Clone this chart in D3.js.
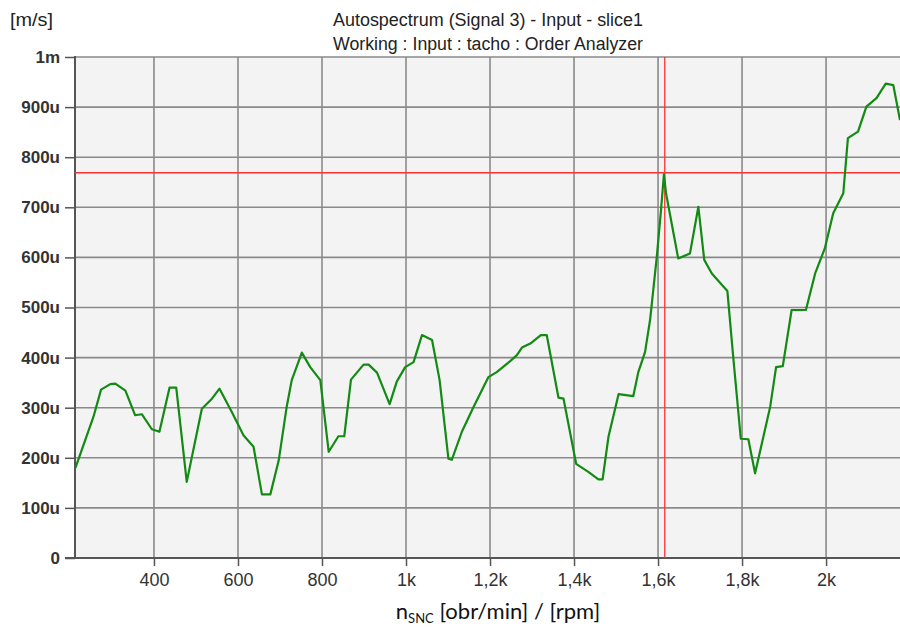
<!DOCTYPE html>
<html>
<head>
<meta charset="utf-8">
<script src="https://cdn.jsdelivr.net/npm/d3@7"></script>
<style>
  body { margin: 0; background: #fff; }
  svg { display: block; }
  .tick text { fill: #333; }
</style>
</head>
<body>
<div id="chart"></div>
<script>
// Speed samples (rpm) and autospectrum amplitude (micro m/s)
const rpm = [213, 256, 274, 296, 308, 332, 355, 371, 395, 413, 437, 453, 478, 514, 538, 556, 585, 613, 637, 657,
  677, 697, 716, 728, 752, 772, 796, 816, 839, 853, 869, 899, 911, 931, 961, 978, 998, 1018, 1038, 1062,
  1080, 1101, 1109, 1133, 1161, 1196, 1216, 1248, 1264, 1276, 1296, 1321, 1335, 1363, 1375, 1405, 1434, 1458, 1468, 1482,
  1506, 1541, 1553, 1569, 1581, 1597, 1607, 1614, 1619, 1648, 1676, 1696, 1710, 1728, 1765, 1779, 1797, 1815, 1831, 1867,
  1881, 1897, 1918, 1952, 1974, 1997, 2017, 2041, 2052, 2076, 2096, 2120, 2142, 2160, 2176];
const amplitude = [180, 282, 336, 347, 348, 334, 285, 287, 257, 252, 340, 340, 152, 298, 318, 338, 292, 245, 222, 127,
  127, 195, 302, 355, 410, 381, 355, 212, 243, 243, 356, 386, 386, 370, 307, 352, 381, 391, 445, 435,
  355, 198, 196, 252, 302, 361, 371, 393, 405, 420, 428, 445, 445, 320, 318, 188, 172, 157, 157, 242,
  327, 323, 371, 411, 475, 601, 694, 766, 728, 598, 608, 701, 595, 568, 533, 401, 238, 237, 169, 302,
  381, 383, 495, 495, 568, 618, 688, 728, 838, 851, 901, 918, 947, 944, 874];

// Cursor position
const cursorRpm = 1616;
const cursorAmp = 769;

const xTicks = [400, 600, 800, 1000, 1200, 1400, 1600, 1800, 2000];
const yTicks = [0, 100, 200, 300, 400, 500, 600, 700, 800, 900, 1000];

const W = 900, H = 628;
const m = { left: 75, right: 900, top: 57, bottom: 558 };
const sans = "'Liberation Sans', Arial, sans-serif";

const svg = d3.select("#chart").append("svg")
  .attr("width", W)
  .attr("height", H);

const x = d3.scaleLinear().domain([212, 2176]).range([m.left, m.right]);
const y = d3.scaleLinear().domain([0, 1000]).range([m.bottom, m.top]);

// plot background
svg.append("rect")
  .attr("x", m.left).attr("y", m.top)
  .attr("width", m.right - m.left).attr("height", m.bottom - m.top)
  .attr("fill", "#f3f3f3");

// grid
svg.append("g")
  .selectAll("line")
  .data(yTicks.filter(d => d > 0))
  .enter().append("line")
  .attr("x1", m.left).attr("x2", m.right)
  .attr("y1", d => y(d)).attr("y2", d => y(d))
  .attr("stroke", "#8a8a8a").attr("stroke-width", 1.6);

svg.append("g")
  .selectAll("line")
  .data(xTicks)
  .enter().append("line")
  .attr("x1", d => x(d)).attr("x2", d => x(d))
  .attr("y1", m.top).attr("y2", m.bottom)
  .attr("stroke", "#8a8a8a").attr("stroke-width", 1.6);

// axes
const yAxis = d3.axisLeft(y).tickValues(yTicks).tickSize(10).tickPadding(5)
  .tickFormat(d => d === 0 ? "0" : d === 1000 ? "1m" : d + "u");
const gy = svg.append("g").attr("transform", `translate(${m.left},0)`).call(yAxis);
gy.select(".domain").remove();
gy.selectAll(".tick line").attr("stroke", "#555").attr("stroke-width", 1.5);
gy.selectAll(".tick text")
  .style("font-family", sans)
  .style("font-size", "17px").style("font-weight", "bold");

const xAxis = d3.axisBottom(x).tickValues(xTicks).tickSize(8).tickPadding(7)
  .tickFormat(d => d < 1000 ? String(d) : (d / 1000).toString().replace(".", ",") + "k");
const gx = svg.append("g").attr("transform", `translate(0,${m.bottom})`).call(xAxis);
gx.select(".domain").remove();
gx.selectAll(".tick line").attr("stroke", "#555").attr("stroke-width", 1.5);
gx.selectAll(".tick text")
  .style("font-family", sans)
  .style("font-size", "18px");

// frame lines
svg.append("line").attr("x1", m.left).attr("x2", m.left).attr("y1", m.top - 1).attr("y2", m.bottom)
  .attr("stroke", "#555").attr("stroke-width", 2);
svg.append("line").attr("x1", m.left - 10).attr("x2", m.right).attr("y1", m.bottom).attr("y2", m.bottom)
  .attr("stroke", "#555").attr("stroke-width", 2);

// cursor
svg.append("line")
  .attr("x1", m.left).attr("x2", m.right)
  .attr("y1", y(cursorAmp)).attr("y2", y(cursorAmp))
  .attr("stroke", "#ff3030").attr("stroke-width", 1.3);
svg.append("line")
  .attr("x1", x(cursorRpm)).attr("x2", x(cursorRpm))
  .attr("y1", m.top).attr("y2", m.bottom)
  .attr("stroke", "#ff3030").attr("stroke-width", 1.3);

// spectrum line
const pts = rpm.map((r, i) => [r, amplitude[i]]);
svg.append("path")
  .datum(pts)
  .attr("fill", "none")
  .attr("stroke", "#138a13")
  .attr("stroke-width", 2.2)
  .attr("stroke-linejoin", "round")
  .attr("d", d3.line().x(d => x(d[0])).y(d => y(d[1])));

// titles
svg.append("text").attr("x", 10).attr("y", 26)
  .attr("textLength", 43).attr("lengthAdjust", "spacingAndGlyphs")
  .style("font-family", sans).style("font-size", "18px").attr("fill", "#222")
  .text("[m/s]");
svg.append("text").attr("x", 488).attr("y", 26).attr("text-anchor", "middle")
  .attr("textLength", 310).attr("lengthAdjust", "spacingAndGlyphs")
  .style("font-family", sans).style("font-size", "18px").attr("fill", "#222")
  .text("Autospectrum (Signal 3) - Input - slice1");
svg.append("text").attr("x", 488).attr("y", 50).attr("text-anchor", "middle")
  .attr("textLength", 310).attr("lengthAdjust", "spacingAndGlyphs")
  .style("font-family", sans).style("font-size", "18px").attr("fill", "#222")
  .text("Working : Input : tacho : Order Analyzer");

const xt = svg.append("text").attr("x", 498).attr("y", 619).attr("text-anchor", "middle")
  .style("font-family", "Lato, 'Open Sans', sans-serif").style("font-size", "22px").attr("fill", "#111");
xt.append("tspan").text("n");
xt.append("tspan").attr("dy", 4).style("font-size", "13px").text("SNC");
xt.append("tspan").attr("dy", -4).text(" [obr/min] / [rpm]");
</script>
</body>
</html>
